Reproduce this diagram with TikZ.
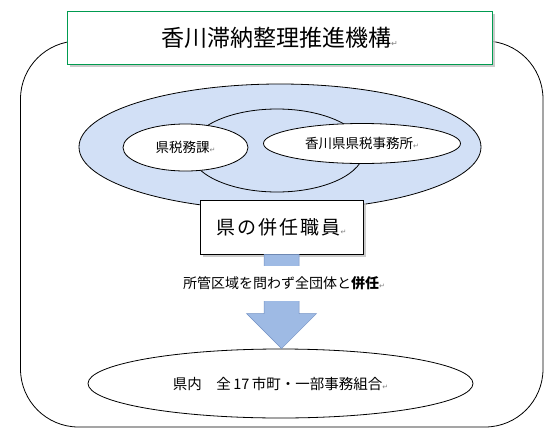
\documentclass[tikz,border=0pt]{standalone}
\usepackage{fontspec}
\setmainfont{Noto Sans CJK JP}
\newfontfamily\dejavu{DejaVu Sans}
\usetikzlibrary{shapes.geometric,shadows,calc}
\definecolor{titlegreen}{RGB}{0,155,80}
\definecolor{paleblue}{RGB}{210,224,246}
\definecolor{arrowblue}{RGB}{158,186,228}
\definecolor{arrowedge}{RGB}{115,145,195}
\definecolor{shadowgray}{RGB}{190,190,190}
\newcommand\retmark[1][7]{{\dejavu\fontsize{#1}{#1}\selectfont\textcolor{gray}{↵}}}
\begin{document}
\begin{tikzpicture}[x=1pt,y=-1pt,line width=0.8pt,
  oval/.style={draw=black,ellipse,inner sep=0pt},
  blueoval/.style={oval,fill=paleblue},
  whiteoval/.style={oval,fill=white},
  shadowbox/.style={draw,fill=white,inner sep=0pt,
    drop shadow={shadow xshift=3pt,shadow yshift=-3pt,fill=shadowgray,opacity=0.8}},
  ovaltext/.style={font=\fontsize{13.5}{14}\selectfont}]
\useasboundingbox (0,0) rectangle (550,445);
% outer frame
\draw[rounded corners=58pt] (20.5,41) rectangle (543,427);
% title
\node[shadowbox,draw=titlegreen,minimum width=425pt,minimum height=53pt,
  font=\fontsize{23}{24}\selectfont] (title) at (279.5,37.5) {香川滞納整理推進機構\retmark[8]};
% ellipses
\node[blueoval,minimum width=402pt,minimum height=126pt] (big) at (280,147) {};
\node[blueoval,minimum width=174pt,minimum height=83pt] (mid) at (277,150.5) {};
\node[whiteoval,minimum width=125pt,minimum height=47pt,ovaltext] (ka) at (185.5,147.5) {県税務課\retmark};
\node[whiteoval,minimum width=197pt,minimum height=40pt,ovaltext] (jimusho) at (362,143.5) {香川県県税事務所\retmark};
% staff box
\node[shadowbox,minimum width=163pt,minimum height=54pt,
  font=\fontsize{19}{20}\selectfont] (staff) at (281.5,227)
  {県\kern2pt の\kern2pt 併\kern2pt 任\kern2pt 職\kern2pt 員\retmark};
% bottom ellipse
\node[whiteoval,minimum width=385pt,minimum height=69pt,
  font=\fontsize{14.5}{15}\selectfont] (pref) at (280.5,383.5)
  {県内　全\,17\,市町・一部事務組合\retmark};
% block arrow
\path let \p1=(staff.south), \p2=(pref.north) in
  [fill=arrowblue,draw=arrowedge,line width=0.5pt]
  (\x1-17.5pt,\y1) -- (\x1+17.5pt,\y1) -- (\x1+17.5pt,\y2+35pt)
  -- (\x1+35pt,\y2+35pt) -- (\x1,\y2) -- (\x1-35pt,\y2+35pt)
  -- (\x1-17.5pt,\y2+35pt) -- cycle;
\node[fill=white,inner xsep=2pt,inner ysep=10.5pt,
  font=\fontsize{14}{15}\selectfont] (note) at (284,283.5)
  {所管区域を問わず全団体と\textbf{併任}\retmark};
\end{tikzpicture}
\end{document}
